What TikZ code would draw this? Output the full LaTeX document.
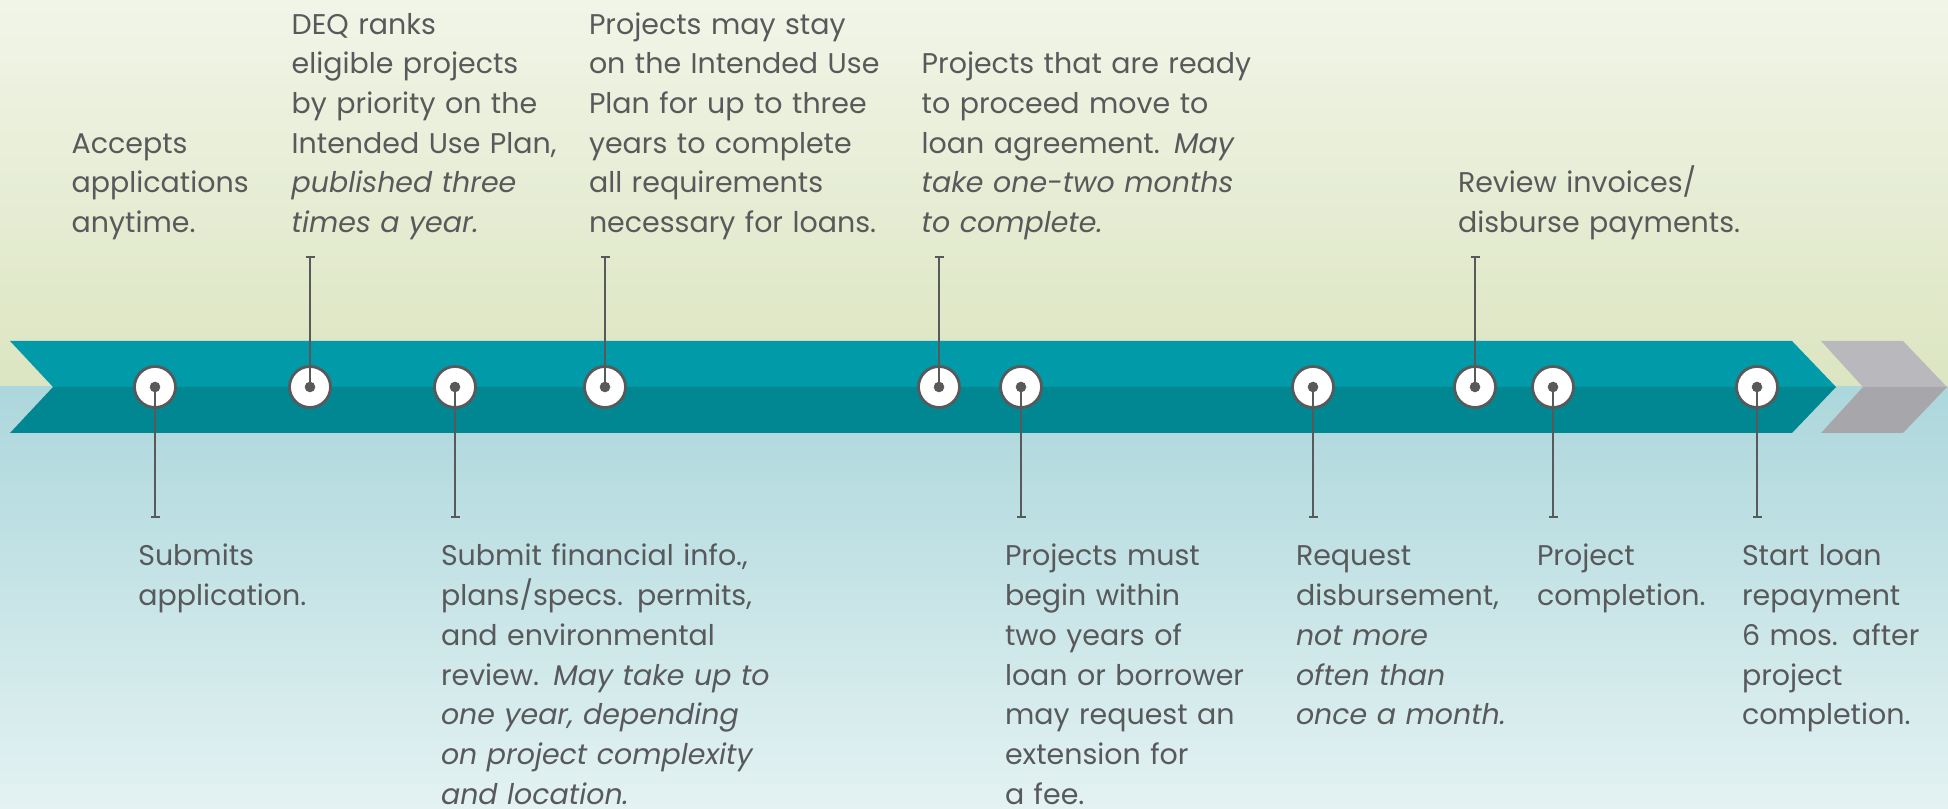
\documentclass[tikz,border=0pt]{standalone}
\usepackage{fontspec}
\setmainfont{Poppins}
\usetikzlibrary{arrows.meta}
\definecolor{bgtop}{HTML}{F1F5E8}
\definecolor{bgmid}{HTML}{DCE5C1}
\definecolor{bgblue}{HTML}{ACD7DC}
\definecolor{bgpale}{HTML}{E4F2F2}
\definecolor{bandtop}{HTML}{009AA9}
\definecolor{bandbot}{HTML}{008791}
\definecolor{greytop}{HTML}{B9B8BD}
\definecolor{greybot}{HTML}{A7A7AB}
\definecolor{ink}{HTML}{58595B}

\begin{document}
\begin{tikzpicture}
		\tikzstyle{ring} = [circle, draw=ink, line width=0.8pt, fill=white, minimum size=0.41cm, inner sep=0]
		\tikzstyle{pin} = [circle, fill=ink, minimum size=0.106cm, inner sep=0]
		\tikzstyle{stem} = [draw=ink, line width=0.6pt, -{Bar[width=0.09cm]}]
		\tikzstyle{note} = [inner sep=0, outer sep=0, anchor=base west, text width=3.6cm, align=left, text=ink, font=\fontsize{8.1}{11.29}\selectfont]
		% background and band
		\useasboundingbox (0,-4.22) rectangle (19.48,3.87);
		\shade [top color=bgtop, bottom color=bgmid] (0,0) rectangle (19.48,3.87);
		\shade [top color=bgblue, bottom color=bgpale] (0,-4.22) rectangle (19.48,0);
		\fill [bandtop] (0.10,0.46) -- (17.92,0.46) -- (18.36,0) -- (0.53,0) -- cycle;
		\fill [bandbot] (0.53,0) -- (18.36,0) -- (17.92,-0.46) -- (0.10,-0.46) -- cycle;
		\fill [greytop] (18.21,0.46) -- (19.03,0.46) -- (19.47,0) -- (18.63,0) -- cycle;
		\fill [greybot] (18.63,0) -- (19.47,0) -- (19.03,-0.46) -- (18.21,-0.46) -- cycle;
		% rings on the band
		\node [ring] (r1) at (1.55,0) {};
		\node [ring] (r2) at (3.10,0) {};
		\node [ring] (r3) at (4.55,0) {};
		\node [ring] (r4) at (6.05,0) {};
		\node [ring] (r5) at (9.39,0) {};
		\node [ring] (r6) at (10.21,0) {};
		\node [ring] (r7) at (13.13,0) {};
		\node [ring] (r8) at (14.75,0) {};
		\node [ring] (r9) at (15.53,0) {};
		\node [ring] (r10) at (17.57,0) {};
		\coordinate (t1) at (1.55,-1.31);
		\coordinate (t2) at (3.10,1.31);
		\coordinate (t3) at (4.55,-1.31);
		\coordinate (t4) at (6.05,1.31);
		\coordinate (t5) at (9.39,1.31);
		\coordinate (t6) at (10.21,-1.31);
		\coordinate (t7) at (13.13,-1.31);
		\coordinate (t8) at (14.75,1.31);
		\coordinate (t9) at (15.53,-1.31);
		\coordinate (t10) at (17.57,-1.31);
		\draw [stem] (r1.center) -- (t1);
		\draw [stem] (r2.center) -- (t2);
		\draw [stem] (r3.center) -- (t3);
		\draw [stem] (r4.center) -- (t4);
		\draw [stem] (r5.center) -- (t5);
		\draw [stem] (r6.center) -- (t6);
		\draw [stem] (r7.center) -- (t7);
		\draw [stem] (r8.center) -- (t8);
		\draw [stem] (r9.center) -- (t9);
		\draw [stem] (r10.center) -- (t10);
		\node [pin] (p1) at (r1) {};
		\node [pin] (p2) at (r2) {};
		\node [pin] (p3) at (r3) {};
		\node [pin] (p4) at (r4) {};
		\node [pin] (p5) at (r5) {};
		\node [pin] (p6) at (r6) {};
		\node [pin] (p7) at (r7) {};
		\node [pin] (p8) at (r8) {};
		\node [pin] (p9) at (r9) {};
		\node [pin] (p10) at (r10) {};
		% notes above
		\node [note] (n0) at (0.717,2.337) {Accepts\\applications\\anytime.};
		\node [note] (n2) at (2.917,3.528) {DEQ ranks\\eligible projects\\by priority on the\\Intended Use Plan,\\\textit{published three}\\\textit{times a year.}};
		\node [note] (n4) at (5.89,3.528) {Projects may stay\\on the Intended Use\\Plan for up to three\\years to complete\\all requirements\\necessary for loans.};
		\node [note] (n5) at (9.217,3.131) {Projects that are ready\\to proceed move to\\loan agreement. \textit{May}\\\textit{take one-two months}\\\textit{to complete.}};
		\node [note] (n8) at (14.58,1.94) {Review invoices/\\disburse payments.};
		% notes below
		\node [note] (n1) at (1.383,-1.79) {Submits\\application.};
		\node [note] (n3) at (4.41,-1.79) {Submit financial info.,\\plans/specs. permits,\\and environmental\\review. \textit{May take up to}\\\textit{one year, depending}\\\textit{on project complexity}\\\textit{and location.}};
		\node [note] (n6) at (10.05,-1.79) {Projects must\\begin within\\two years of\\loan or borrower\\may request an\\extension for\\a fee.};
		\node [note] (n7) at (12.96,-1.79) {Request\\disbursement,\\\textit{not more}\\\textit{often than}\\\textit{once a month.}};
		\node [note] (n9) at (15.37,-1.79) {Project\\completion.};
		\node [note] (n10) at (17.42,-1.79) {Start loan\\repayment\\6 mos. after\\project\\completion.};
\end{tikzpicture}
\end{document}
